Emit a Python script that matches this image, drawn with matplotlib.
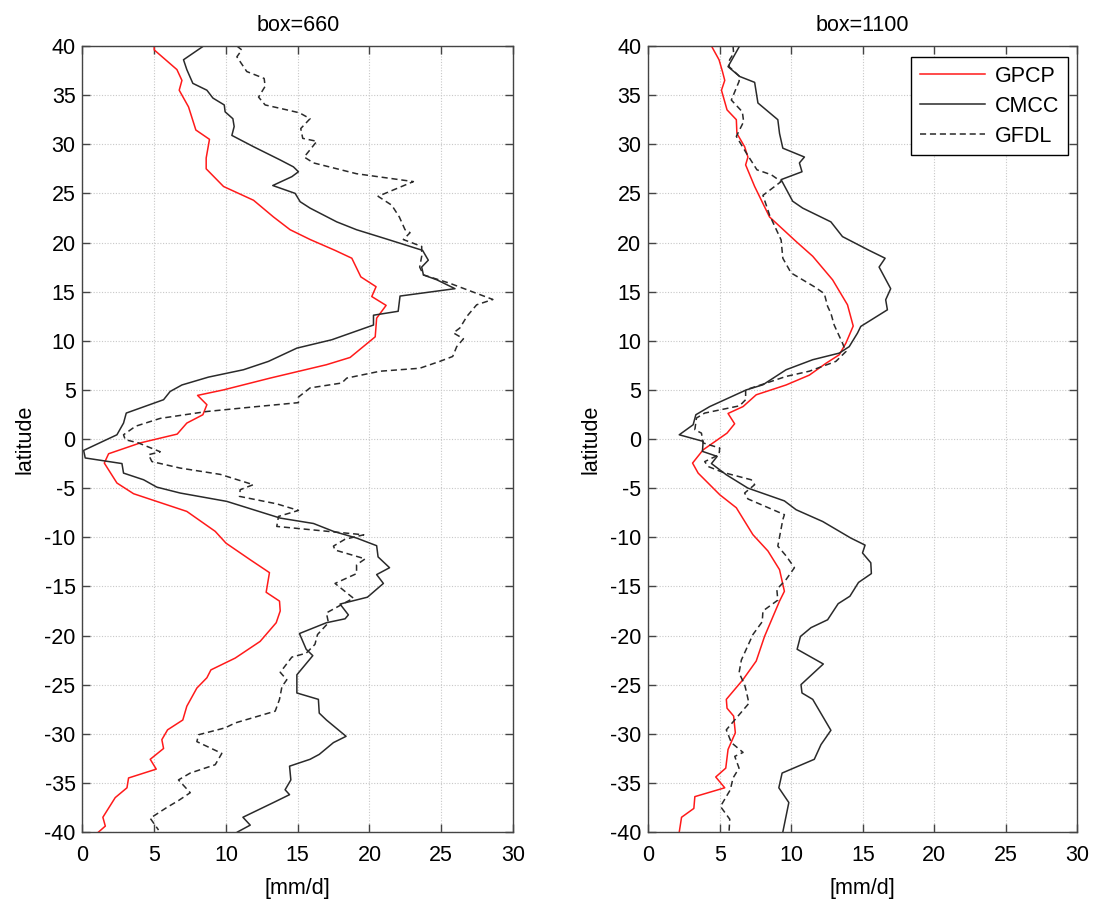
"""Meridional precipitation profiles for two box sizes."""
import matplotlib

matplotlib.use("Agg")
import matplotlib.pyplot as plt

# box=660
lat_gpcp_660 = [40, 39.6, 37.6, 36.5, 35.5, 33.8, 31.45, 30.5, 28.6, 27.5, 25.7, 24.3, 22.6, 21.3, 20.3, 19.2, 18.4, 16.5, 15.5, 14.5, 13.6, 12.3, 10.4, 8.3, 7.56, 6.2, 5.0, 4.44, 3.49, 2.47, 1.62, 0.5, -0.4, -1.5, -2.45, -4.48, -5.57, -7.37, -9.4, -10.6, -12.3, -13.6, -15.6, -16.5, -17.5, -18.7, -20.6, -22.3, -23.5, -24.3, -25.35, -27.2, -28.6, -29.6, -30.6, -31.5, -32.6, -33.6, -34.5, -35.5, -36.5, -38.5, -39.4, -40]
gpcp_660 = [5.0, 5.0, 6.58, 6.93, 6.74, 7.39, 7.9, 8.85, 8.62, 8.62, 9.83, 11.92, 13.31, 14.47, 15.87, 17.6, 18.77, 19.4, 20.46, 20.16, 21.16, 20.5, 20.4, 18.65, 17.0, 13.08, 9.83, 8.02, 8.67, 8.39, 7.27, 6.6, 4.02, 1.82, 1.52, 2.4, 3.56, 7.27, 9.25, 10.0, 11.7, 13.03, 12.8, 13.73, 13.78, 13.5, 12.38, 10.64, 8.95, 8.67, 7.97, 7.27, 6.99, 5.93, 5.53, 5.65, 4.72, 5.14, 3.21, 3.1, 2.28, 1.42, 1.59, 1.12]

lat_cmcc_660 = [40, 38.6, 37.6, 36.2, 35.5, 34.7, 34.0, 33.3, 32.6, 31.8, 30.9, 29.75, 28.4, 27.7, 27.2, 26.7, 25.8, 25.0, 24.15, 23.5, 22.1, 21.3, 20.4, 19.2, 18.2, 17.5, 16.7, 16.2, 15.3, 14.55, 13.0, 12.6, 11.6, 10.1, 9.25, 7.9, 7.05, 6.3, 5.5, 4.84, 4.0, 2.64, 1.62, 0.43, -1.16, -1.93, -2.5, -3.47, -4.15, -4.9, -5.5, -6.35, -8.05, -8.6, -9.4, -10.08, -10.86, -12.0, -13.1, -13.8, -14.7, -16.1, -16.8, -17.9, -18.3, -18.7, -19.8, -21.4, -22.05, -24.0, -25.85, -26.5, -27.9, -28.6, -30.26, -30.9, -32.1, -32.6, -33.3, -34.7, -35.7, -36.2, -37.0, -38.5, -39.3, -40]
cmcc_660 = [8.44, 7.04, 7.27, 7.69, 8.67, 9.09, 9.88, 9.94, 10.48, 10.57, 10.41, 11.92, 13.78, 14.7, 15.05, 14.59, 13.26, 14.82, 15.17, 15.86, 17.72, 19.1, 21.09, 23.7, 24.1, 23.64, 23.76, 24.7, 25.96, 22.13, 22.0, 20.28, 20.28, 17.37, 14.94, 12.96, 11.22, 8.78, 6.93, 6.11, 5.65, 3.05, 2.86, 2.4, 0.08, 0.19, 2.75, 2.86, 4.26, 5.18, 6.81, 10.06, 13.78, 16.1, 17.49, 19.1, 20.5, 20.6, 21.4, 20.5, 20.97, 19.86, 17.95, 18.53, 18.3, 17.0, 15.12, 15.59, 16.05, 14.94, 14.94, 16.44, 16.5, 17.0, 18.37, 17.49, 16.5, 15.86, 14.43, 14.52, 14.12, 14.43, 13.31, 11.18, 11.69, 10.8]

lat_gfdl_660 = [40, 39.6, 38.9, 37.4, 36.7, 35.9, 34.8, 34.0, 33.5, 33.2, 32.6, 31.6, 30.6, 30.3, 28.7, 28.1, 27.0, 26.2, 24.7, 23.8, 22.6, 21.3, 21.0, 20.3, 19.6, 18.6, 17.5, 16.7, 15.85, 14.2, 13.66, 12.5, 11.3, 10.8, 10.2, 9.4, 8.4, 7.9, 7.2, 6.9, 6.2, 5.7, 5.2, 4.27, 3.7, 3.3, 2.8, 2.1, 1.3, 0.43, -0.07, -0.4, -1.3, -1.6, -2.3, -2.96, -3.6, -4.65, -5.16, -5.84, -6.6, -7.27, -7.88, -8.9, -9.75, -10.2, -10.9, -11.3, -12.2, -12.8, -13.7, -14.7, -16.2, -17.7, -18.7, -19.9, -20.9, -21.8, -22.2, -23.75, -24.5, -25.2, -26.5, -27.7, -28.9, -29.4, -30.1, -30.8, -32.0, -33.15, -34.0, -34.7, -36.0, -36.8, -37.5, -38.6, -39.8]
gfdl_660 = [10.76, 11.1, 10.76, 11.45, 12.66, 12.73, 12.27, 12.73, 14.24, 15.12, 15.86, 15.21, 15.35, 16.33, 15.45, 16.1, 19.1, 23.06, 20.6, 21.55, 22.08, 22.48, 22.83, 22.36, 23.64, 23.64, 23.5, 23.76, 25.6, 28.6, 27.47, 26.8, 26.3, 25.85, 26.55, 26.08, 25.8, 24.9, 23.5, 20.74, 18.42, 18.07, 15.86, 15.05, 15.05, 12.15, 8.67, 5.42, 3.7, 2.86, 2.98, 3.9, 5.42, 4.6, 4.84, 6.81, 9.6, 11.9, 10.99, 10.94, 13.54, 15.05, 13.66, 13.54, 19.6, 18.3, 17.49, 17.6, 19.7, 19.1, 19.1, 17.6, 18.88, 17.0, 17.14, 16.38, 16.2, 15.59, 14.59, 13.78, 14.24, 13.9, 13.73, 13.43, 10.64, 9.94, 8.09, 7.97, 9.71, 9.25, 7.51, 6.69, 7.51, 6.69, 5.88, 4.72, 5.3]

# box=1100
lat_gpcp_1100 = [40, 38.6, 37.4, 36.5, 35.5, 33.5, 32.5, 31.1, 29.75, 28.7, 27.9, 25.7, 22.6, 20.1, 18.6, 16.2, 13.66, 11.5, 9.76, 8.57, 7.7, 6.5, 5.5, 4.5, 3.3, 2.6, 1.55, 0.6, -1.1, -2.45, -3.47, -4.65, -5.67, -7.0, -9.74, -11.4, -13.3, -15.5, -16.5, -20.1, -22.6, -24.5, -26.5, -27.4, -28.2, -29.9, -31.6, -33.5, -34.4, -35.5, -36.4, -37.6, -38.5, -40]
gpcp_1100 = [4.42, 4.95, 5.19, 5.35, 5.12, 5.51, 6.16, 6.2, 6.74, 6.97, 6.81, 7.44, 8.48, 10.34, 11.5, 12.89, 13.93, 14.33, 13.82, 13.35, 12.42, 11.26, 9.64, 7.55, 6.63, 5.58, 6.04, 5.51, 3.84, 3.1, 3.49, 4.3, 5.0, 6.16, 7.32, 8.37, 9.18, 9.52, 9.18, 8.13, 7.55, 6.62, 5.46, 5.51, 5.97, 6.09, 5.58, 5.42, 4.72, 5.35, 3.26, 3.19, 2.33, 2.17]

lat_cmcc_1100 = [40, 37.9, 36.9, 36.3, 34.2, 32.5, 31.1, 29.6, 28.7, 28.1, 27.2, 26.4, 24.2, 23.5, 22.1, 20.6, 19.2, 18.4, 17.5, 15.3, 14.17, 13.15, 11.46, 10.78, 9.4, 8.74, 8.07, 7.05, 5.52, 5.0, 3.3, 2.47, 1.45, 0.43, -0.24, -1.26, -1.77, -2.5, -3.64, -5.0, -6.3, -7.2, -8.4, -10.08, -10.8, -11.6, -12.6, -13.7, -14.6, -16.0, -16.76, -18.4, -19.2, -20.1, -21.4, -22.9, -25.0, -25.85, -26.5, -29.65, -31.1, -32.6, -34.0, -35.5, -37.0, -40]
cmcc_1100 = [6.39, 5.58, 6.39, 7.44, 7.67, 9.06, 9.18, 9.41, 10.92, 10.57, 10.75, 9.29, 10.1, 10.8, 12.77, 13.58, 15.44, 16.56, 16.14, 16.95, 16.6, 16.72, 14.86, 14.63, 14.05, 13.35, 11.5, 9.64, 8.02, 6.86, 4.3, 3.33, 3.14, 2.17, 3.84, 3.79, 4.82, 4.42, 5.46, 6.97, 9.52, 10.34, 12.2, 14.16, 15.16, 14.98, 15.56, 15.6, 14.7, 14.1, 13.28, 12.54, 11.38, 10.64, 10.41, 12.24, 10.68, 10.75, 11.5, 12.77, 12.08, 11.61, 9.36, 9.13, 9.83, 9.41]

lat_gfdl_1100 = [40, 39.25, 38.6, 37.9, 36.9, 36.4, 34.5, 33.3, 32.3, 30.8, 29.1, 27.4, 26.9, 26.2, 24.8, 22.8, 20.26, 18.4, 16.9, 15.5, 14.8, 13.5, 12.8, 11.6, 9.76, 8.9, 7.9, 6.9, 6.37, 5.52, 5.0, 4.0, 3.38, 2.64, 2.13, 0.94, 0.6, -0.4, -0.92, -1.6, -2.3, -2.8, -3.4, -4.15, -4.65, -5.5, -6.1, -7.7, -8.2, -10.9, -11.9, -13.1, -14.3, -15.3, -16.4, -17.5, -18.6, -19.9, -22.5, -23.8, -25.0, -25.7, -26.9, -28.4, -29.6, -30.9, -31.9, -32.3, -33.5, -34.5, -35.7, -37.4, -38.7, -40]
gfdl_1100 = [5.93, 5.97, 5.69, 5.65, 6.39, 6.35, 5.81, 6.58, 6.67, 6.16, 6.86, 7.6, 8.6, 9.29, 8.02, 8.48, 9.29, 9.41, 9.99, 11.61, 12.31, 12.54, 12.77, 13.0, 13.58, 13.82, 13.12, 11.26, 9.64, 7.9, 6.81, 6.81, 6.39, 3.95, 3.37, 3.26, 3.72, 3.84, 5.0, 4.95, 3.95, 4.19, 5.23, 7.2, 7.44, 6.74, 6.97, 9.52, 9.41, 9.06, 9.64, 10.22, 9.64, 8.99, 9.06, 8.02, 7.97, 7.32, 6.51, 6.35, 6.74, 6.86, 7.04, 6.16, 5.46, 5.81, 6.63, 6.05, 6.35, 5.93, 5.74, 5.05, 5.7, 5.65]

plt.rcParams["font.family"] = ["Liberation Sans", "DejaVu Sans"]
plt.rcParams["font.size"] = 15.5
plt.rcParams["axes.unicode_minus"] = False

fig = plt.figure(figsize=(10.97, 9.02), dpi=100)
ax1 = fig.add_axes([0.0752, 0.0776, 0.3924, 0.8714])
ax2 = fig.add_axes([0.5909, 0.0776, 0.3912, 0.8714])

panels = [
    (ax1, "box=660", (lat_gpcp_660, gpcp_660), (lat_cmcc_660, cmcc_660), (lat_gfdl_660, gfdl_660)),
    (ax2, "box=1100", (lat_gpcp_1100, gpcp_1100), (lat_cmcc_1100, cmcc_1100), (lat_gfdl_1100, gfdl_1100)),
]

for ax, title, gpcp, cmcc, gfdl in panels:
    ax.plot(gpcp[1], gpcp[0], color="#ff1a1a", lw=1.1, label="GPCP")
    ax.plot(cmcc[1], cmcc[0], color="#2a2a2a", lw=1.1, label="CMCC")
    ax.plot(gfdl[1], gfdl[0], color="#2a2a2a", lw=1.1, ls=(0, (4, 2.5)), label="GFDL")
    ax.set_xlim(0, 30)
    ax.set_ylim(-40, 40)
    ax.set_xticks(range(0, 31, 5))
    ax.set_yticks(range(-40, 41, 5))
    ax.grid(True, color="#c8c8c8", ls=(0, (1, 1.5)), lw=0.8)
    ax.tick_params(direction="in", length=6, width=1, color="#444444",
                   top=True, right=True, labelsize=15.5)
    ax.tick_params(axis="x", pad=9)
    ax.tick_params(axis="y", pad=5)
    for sp in ax.spines.values():
        sp.set_color("#444444")
        sp.set_linewidth(1.0)
    ax.set_title(title, fontsize=15.5, pad=11)
    ax.set_xlabel("[mm/d]", fontsize=15.5, labelpad=9)
    ax.set_ylabel("latitude", fontsize=15.5, labelpad=6)

leg = ax2.legend(loc="upper right", bbox_to_anchor=(0.979, 0.986), borderaxespad=0,
                 fancybox=False, framealpha=1, edgecolor="black", fontsize=15.5,
                 handlelength=3.0, labelspacing=0.42, handletextpad=0.5)
leg.get_frame().set_linewidth(1.0)

fig.savefig("out.png", dpi=100)
